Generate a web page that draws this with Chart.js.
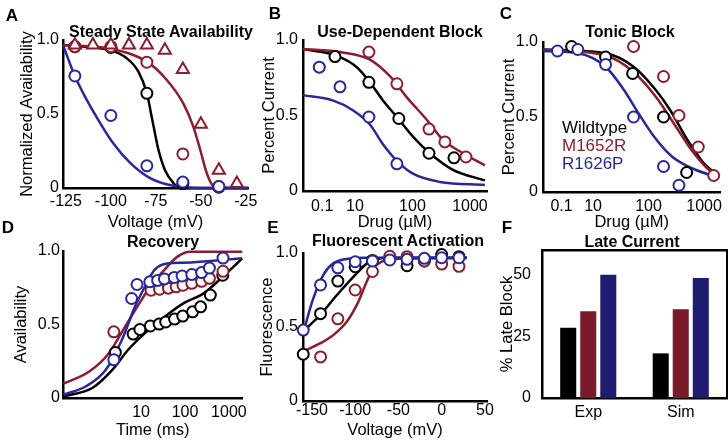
<!DOCTYPE html>
<html>
<head>
<meta charset="utf-8">
<script src="https://cdn.jsdelivr.net/npm/chart.js@4"></script>
<style>
  body { margin: 0; width: 728px; height: 440px; background: #fff; position: relative; overflow: hidden;
         font-family: 'Liberation Sans', Arial, sans-serif; color: #000; }
  canvas { position: absolute; }
  .lbl { position: absolute; transform: translate(-50%, -50%); white-space: nowrap; }
  .letter { font-weight: bold; font-size: 17px; }
  .ttl { font-weight: bold; font-size: 16px; }
  .leg { position: absolute; transform: translateY(-50%); font-size: 17px; white-space: nowrap; }
</style>
</head>
<body>
<canvas id="cA" width="262" height="232" style="left:0;top:0"></canvas>
<canvas id="cB" width="250" height="232" style="left:250px;top:0"></canvas>
<canvas id="cC" width="238" height="232" style="left:490px;top:0"></canvas>
<canvas id="cD" width="250" height="208" style="left:0;top:232px"></canvas>
<canvas id="cE" width="250" height="208" style="left:250px;top:232px"></canvas>
<canvas id="cF" width="238" height="208" style="left:490px;top:232px"></canvas>

<div class="lbl letter" style="left:12px;top:16px">A</div>
<div class="lbl letter" style="left:275px;top:14px">B</div>
<div class="lbl letter" style="left:506px;top:14px">C</div>
<div class="lbl letter" style="left:8px;top:228px">D</div>
<div class="lbl letter" style="left:273px;top:228px">E</div>
<div class="lbl letter" style="left:507px;top:228px">F</div>

<div class="lbl ttl" style="left:161px;top:32px">Steady State Availability</div>
<div class="lbl ttl" style="left:400px;top:32px">Use-Dependent Block</div>
<div class="lbl ttl" style="left:630px;top:32px">Tonic Block</div>
<div class="lbl ttl" style="left:163px;top:242px">Recovery</div>
<div class="lbl ttl" style="left:398px;top:241px">Fluorescent Activation</div>
<div class="lbl ttl" style="left:632px;top:242px">Late Current</div>

<div id="legend"></div>

<script>
// colours for the three channel variants
const WT = '#000000';
const MR = '#8c1d2d';   // M1652R
const RP = '#28289a';   // R1626P
const variants = ['Wildtype', 'M1652R', 'R1626P'];
const variantColors = [WT, MR, RP];

// ---- A: steady state availability ----
const ssaVolt = [-120, -100, -80, -60, -40];
const ssaWt = [0.955, 0.95, 0.64, 0.03, 0.005];
const ssaMR = [0.955, 0.955, 0.85, 0.23, 0.01];
const ssaRP = [0.757, 0.49, 0.15, 0.04, 0.01];
const ssaTriVolt = [-120, -110, -100, -90, -80, -70, -60, -50, -40, -30];
const ssaTriMR = [0.966, 0.966, 0.966, 0.966, 0.966, 0.93, 0.80, 0.43, 0.12, 0.03];
const ssaFitWtV = [-126.6, -100, -91.2, -84.7, -80, -77.3, -73.6, -69.9, -65.3, -61.6, -23.8];
const ssaFitWt = [0.966, 0.93, 0.877, 0.786, 0.64, 0.48, 0.26, 0.12, 0.034, 0, 0];
const ssaFitMRV = [-126.6, -100, -80, -68.9, -59.7, -54.2, -50.4, -46.7, -43.1, -31.9, -23.8];
const ssaFitMR = [0.966, 0.94, 0.854, 0.73, 0.57, 0.415, 0.26, 0.10, 0.016, 0, 0];
const ssaFitRPV = [-126.6, -120, -113.4, -106, -98.6, -89.3, -78.2, -65.3, -50.4, -23.8];
const ssaFitRP = [0.966, 0.757, 0.595, 0.44, 0.30, 0.17, 0.067, 0.015, 0, 0];
const voltTicksA = [-125, -100, -75, -50, -25];

// ---- B: use-dependent block (drug in uM) ----
const udbWtDose = [4.5, 17.5, 58, 194, 527];
const udbWt = [0.89, 0.72, 0.48, 0.25, 0.22];
const udbMRDose = [17.5, 53.7, 194, 367, 851];
const udbMR = [0.92, 0.71, 0.41, 0.325, 0.225];
const udbRPDose = [2.4, 5.5, 17.5, 53.7];
const udbRP = [0.82, 0.69, 0.49, 0.18];
const udbFitWtDose = [1.25, 4.5, 10.8, 18.2, 30.7, 53.7, 102, 201, 506, 1820];
const udbFitWt = [0.94, 0.90, 0.82, 0.72, 0.60, 0.49, 0.36, 0.25, 0.14, 0.07];
const udbFitMRDose = [1.25, 5.5, 18.2, 40.6, 80, 179, 339, 755, 1820];
const udbFitMR = [0.94, 0.92, 0.87, 0.76, 0.62, 0.47, 0.34, 0.25, 0.17];
const udbFitRPDose = [1.25, 4.1, 9.2, 18.2, 30.7, 53.7, 102, 300, 1820];
const udbFitRP = [0.635, 0.60, 0.535, 0.44, 0.31, 0.20, 0.115, 0.06, 0.04];

// ---- C: tonic block ----
const tonWtDose = [4.1, 16.8, 51.6, 186, 486];
const tonWt = [0.97, 0.90, 0.79, 0.50, 0.13];
const tonMRDose = [53.6, 186, 353, 787, 1493];
const tonMR = [0.97, 0.77, 0.51, 0.30, 0.11];
const tonRPDose = [2.28, 5.3, 16.8, 53.6, 186, 353];
const tonRP = [0.94, 0.95, 0.85, 0.50, 0.17, 0.045];
const tonFitWtDose = [1.25, 16.8, 53.6, 135, 246, 506, 1000, 1822];
const tonFitWt = [0.95, 0.925, 0.835, 0.68, 0.545, 0.345, 0.19, 0.11];
const tonFitMRDose = [1.25, 16.8, 53.6, 135, 300, 593, 1125, 1822];
const tonFitMR = [0.95, 0.91, 0.80, 0.635, 0.445, 0.28, 0.16, 0.10];
const tonFitRPDose = [1.25, 5.4, 16.8, 36, 65.7, 125, 267, 593, 1822];
const tonFitRP = [0.94, 0.925, 0.835, 0.68, 0.525, 0.37, 0.235, 0.16, 0.095];
const drugTickAt = [2.7, 10, 100, 1000];
const drugTickText = ['0.1', '10', '100', '1000'];

// ---- D: recovery (time in ms) ----
const recWtTime = [2.6, 6.6, 9.4, 16.3, 25.8, 36.5, 58, 89, 149, 227, 378, 725];
const recWt = [0.31, 0.435, 0.466, 0.49, 0.503, 0.517, 0.537, 0.557, 0.586, 0.62, 0.70, 0.835];
const recMRTime = [2.4, 16.9, 26.4, 41.9, 63, 90, 143, 239, 360, 735];
const recMR = [0.45, 0.733, 0.74, 0.747, 0.756, 0.767, 0.78, 0.794, 0.814, 0.862];
const recRPTime = [2.4, 6.1, 8.1, 15.8, 23.9, 34, 57, 86, 143, 239, 360, 735];
const recRP = [0.26, 0.677, 0.772, 0.79, 0.80, 0.81, 0.82, 0.83, 0.84, 0.853, 0.884, 0.952];
const recFitWtTime = [0.17, 0.79, 2.19, 5.14, 12.1, 33.6, 93.5, 261, 725, 2014];
const recFitWt = [0.01, 0.07, 0.19, 0.33, 0.44, 0.55, 0.645, 0.71, 0.825, 0.95];
const recFitMRTime = [0.17, 0.66, 1.85, 4.34, 8.57, 16.9, 33.6, 66.4, 131, 2014];
const recFitMR = [0.097, 0.18, 0.305, 0.485, 0.63, 0.767, 0.87, 0.96, 0.995, 0.995];
const recFitRPTime = [0.17, 0.56, 1.56, 3.65, 7.24, 12.1, 20.1, 39.8, 93.5, 2014];
const recFitRP = [0.022, 0.08, 0.19, 0.395, 0.62, 0.755, 0.87, 0.915, 0.92, 0.95];
const timeTicks = [10, 100, 1000];

// ---- E: fluorescent activation ----
const fluVolt = [-160, -140, -120, -100, -80, -60, -40, -20, 0, 20];
const fluWt = [0.316, 0.59, 0.81, 0.907, 0.95, 0.96, 0.914, 0.946, 0.99, 0.975];
const fluMRVolt = [-140, -120, -100, -80, -60, -40, -20, 0, 20];
const fluMR = [0.298, 0.555, 0.75, 0.875, 0.978, 0.975, 0.946, 0.925, 0.91];
const fluRP = [0.479, 0.784, 0.90, 0.941, 0.946, 0.953, 0.957, 0.964, 0.968, 0.968];
const fluFitWtV = [-154.6, -140.7, -121, -100.2, -86.3, -74.8, -59.8, 29.2];
const fluFitWt = [0.50, 0.58, 0.716, 0.85, 0.93, 0.96, 0.968, 0.968];
const fluFitMRV = [-160, -140.7, -125.3, -109.8, -96.4, -86.7, -79, -69.4, -56, 28.9];
const fluFitMR = [0.335, 0.389, 0.445, 0.535, 0.67, 0.806, 0.896, 0.941, 0.96, 0.964];
const fluFitRPV = [-159.2, -148.4, -136.9, -125.3, -109.8, -86.7, 28.9];
const fluFitRP = [0.479, 0.693, 0.851, 0.93, 0.96, 0.968, 0.968];
const voltTicksE = [-150, -100, -50, 0, 50];

// ---- F: late current block (%) ----
const lateGroups = ['Exp', 'Sim'];
const lateWt = [28.5, 18.1];
const lateMR = [35.2, 36];
const lateRP = [50, 48.6];

const fracTicks = [0, 0.5, 1];
const fracText = ['0', '0.5', '1.0'];

Chart.defaults.font.family = "'Liberation Sans', Arial, sans-serif";
Chart.defaults.color = '#000';

const TICK_FONT = { size: 16 };
const AXIS_FONT = { size: 16.5 };
const AXIS_LINE = { display: true, color: '#000', width: 2.5 };

function pts(xs, ys) { return xs.map((x, i) => ({ x: x, y: ys[i] })); }

function marks(xs, ys, color, style) {
  return {
    data: pts(xs, ys), showLine: false, clip: false,
    pointStyle: style || 'circle', pointRadius: style === 'triangle' ? 7 : 5.5,
    pointBorderWidth: 2, pointBorderColor: color, pointBackgroundColor: '#fff', borderColor: color
  };
}

function fit(xs, ys, color) {
  return {
    data: pts(xs, ys), showLine: true, clip: false, pointRadius: 0,
    borderColor: color, borderWidth: 2.5, cubicInterpolationMode: 'monotone'
  };
}

// left/bottom MATLAB style axes with fixed sizes so plot areas line up
function frame(o) {
  return {
    x: {
      type: o.xType, min: o.xMin, max: o.xMax,
      border: AXIS_LINE,
      grid: { display: false, drawTicks: false },
      ticks: { autoSkip: false, maxRotation: 0, padding: o.xPad, font: TICK_FONT,
               callback: (v, i) => o.xText[i] },
      title: { display: true, text: o.xTitle, font: AXIS_FONT, padding: { top: 0, bottom: 0 } },
      afterBuildTicks: s => { s.ticks = o.xTicks.map(v => ({ value: v })); },
      afterFit: s => { s.height = o.xH; s.paddingLeft = 0; s.paddingRight = 0; }
    },
    y: {
      type: 'linear', min: 0, max: 1,
      border: AXIS_LINE,
      grid: { display: false, drawTicks: false },
      ticks: { padding: o.yPad, font: TICK_FONT, callback: (v, i) => fracText[i] },
      title: { display: true, text: o.yTitle, font: AXIS_FONT, padding: { top: o.yTitlePad, bottom: 0 } },
      afterBuildTicks: s => { s.ticks = fracTicks.map(v => ({ value: v })); },
      afterFit: s => { s.width = o.yW; s.paddingTop = 0; s.paddingBottom = 0; }
    }
  };
}

function scatterPanel(id, datasets, padding, scales) {
  return new Chart(document.getElementById(id), {
    type: 'scatter',
    data: { datasets: datasets },
    options: {
      responsive: false, animation: false, events: [],
      layout: { padding: padding },
      plugins: { legend: { display: false }, tooltip: { enabled: false } },
      scales: scales
    }
  });
}

// A
scatterPanel('cA', [
  marks(ssaVolt, ssaRP, RP),
  marks(ssaTriVolt, ssaTriMR, MR, 'triangle'),
  marks(ssaVolt, ssaMR, MR),
  marks(ssaVolt, ssaWt, WT),
  fit(ssaFitRPV, ssaFitRP, RP),
  fit(ssaFitMRV, ssaFitMR, MR),
  fit(ssaFitWtV, ssaFitWt, WT)
], { left: 0, top: 40, right: 14, bottom: 0 }, frame({
  xType: 'linear', xMin: -126.6, xMax: -23.8, xTicks: voltTicksA, xText: voltTicksA.map(String),
  xTitle: 'Voltage (mV)', xH: 44, xPad: 4,
  yTitle: 'Normalized Availability', yW: 63, yPad: 4, yTitlePad: 18
}));

// B
scatterPanel('cB', [
  marks(udbRPDose, udbRP, RP),
  marks(udbMRDose, udbMR, MR),
  marks(udbWtDose, udbWt, WT),
  fit(udbFitRPDose, udbFitRP, RP),
  fit(udbFitMRDose, udbFitMR, MR),
  fit(udbFitWtDose, udbFitWt, WT)
], { left: 0, top: 40, right: 13, bottom: 0 }, frame({
  xType: 'logarithmic', xMin: 1.25, xMax: 1980, xTicks: drugTickAt, xText: drugTickText,
  xTitle: 'Drug (\u00b5M)', xH: 41, xPad: 6,
  yTitle: 'Percent Current', yW: 53, yPad: 5, yTitlePad: 10
}));

// C
scatterPanel('cC', [
  marks(tonRPDose, tonRP, RP),
  marks(tonMRDose, tonMR, MR),
  marks(tonWtDose, tonWt, WT),
  fit(tonFitRPDose, tonFitRP, RP),
  fit(tonFitMRDose, tonFitMR, MR),
  fit(tonFitWtDose, tonFitWt, WT)
], { left: 0, top: 42, right: 1, bottom: 0 }, frame({
  xType: 'logarithmic', xMin: 1.25, xMax: 1980, xTicks: drugTickAt, xText: drugTickText,
  xTitle: 'Drug (\u00b5M)', xH: 40, xPad: 5,
  yTitle: 'Percent Current', yW: 53, yPad: 5, yTitlePad: 10
}));

// D
scatterPanel('cD', [
  marks(recRPTime, recRP, RP),
  marks(recMRTime, recMR, MR),
  marks(recWtTime, recWt, WT),
  fit(recFitRPTime, recFitRP, RP),
  fit(recFitMRTime, recFitMR, MR),
  fit(recFitWtTime, recFitWt, WT)
], { left: 0, top: 19, right: 3, bottom: 0 }, frame({
  xType: 'logarithmic', xMin: 0.167, xMax: 2040, xTicks: timeTicks, xText: timeTicks.map(String),
  xTitle: 'Time (ms)', xH: 42, xPad: 5,
  yTitle: 'Availability', yW: 63, yPad: 3, yTitlePad: 12
}));

// E
scatterPanel('cE', [
  marks(fluVolt, fluRP, RP),
  marks(fluMRVolt, fluMR, MR),
  marks(fluVolt, fluWt, WT),
  fit(fluFitRPV, fluFitRP, RP),
  fit(fluFitMRV, fluFitMR, MR),
  fit(fluFitWtV, fluFitWt, WT)
], { left: 0, top: 21, right: 13, bottom: 0 }, frame({
  xType: 'linear', xMin: -160.3, xMax: 52.4, xTicks: voltTicksE, xText: voltTicksE.map(String),
  xTitle: 'Voltage (mV)', xH: 39, xPad: 0,
  yTitle: 'Fluorescence', yW: 53, yPad: 5, yTitlePad: 8
}));

// F - boxed bar chart
new Chart(document.getElementById('cF'), {
  type: 'bar',
  data: {
    labels: lateGroups,
    datasets: [
      { label: variants[0], data: lateWt, backgroundColor: '#000000' },
      { label: variants[1], data: lateMR, backgroundColor: '#7a1a2b' },
      { label: variants[2], data: lateRP, backgroundColor: '#1e1b70' }
    ]
  },
  options: {
    responsive: false, animation: false, events: [],
    layout: { padding: { left: 0, top: 18, right: 1, bottom: 0 } },
    datasets: { bar: { barPercentage: 0.8, categoryPercentage: 0.65 } },
    plugins: { legend: { display: false }, tooltip: { enabled: false } },
    scales: {
      x: {
        border: AXIS_LINE, grid: { display: false, drawTicks: false },
        ticks: { padding: 5, font: TICK_FONT },
        afterFit: s => { s.height = 42; s.paddingLeft = 0; s.paddingRight = 0; }
      },
      x2: {
        type: 'category', position: 'top', border: AXIS_LINE,
        grid: { display: false, drawTicks: false }, ticks: { display: false },
        afterFit: s => { s.height = 0; }
      },
      y: {
        min: 0, max: 60,
        border: AXIS_LINE, grid: { display: false, drawTicks: false },
        ticks: { padding: 11, font: TICK_FONT },
        title: { display: true, text: '% Late Block', font: AXIS_FONT, padding: { top: 8, bottom: 0 } },
        afterBuildTicks: s => { s.ticks = [0, 25, 50].map(v => ({ value: v })); },
        afterFit: s => { s.width = 52; s.paddingTop = 0; s.paddingBottom = 0; }
      },
      y2: {
        type: 'linear', position: 'right', border: AXIS_LINE,
        grid: { display: false, drawTicks: false }, ticks: { display: false },
        afterFit: s => { s.width = 0; }
      }
    }
  }
});

// legend text inside panel C
const legend = document.getElementById('legend');
variants.forEach((name, i) => {
  const d = document.createElement('div');
  d.className = 'leg';
  d.textContent = name;
  d.style.color = variantColors[i];
  d.style.left = '562px';
  d.style.top = (128 + i * 18) + 'px';
  legend.appendChild(d);
});
</script>
</body>
</html>
